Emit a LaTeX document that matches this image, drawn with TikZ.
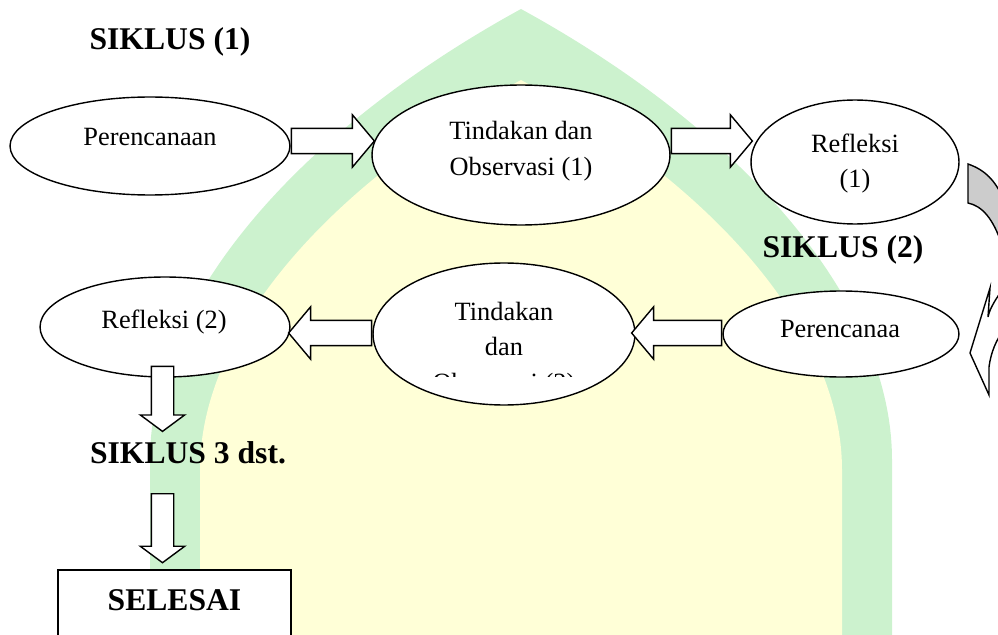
\documentclass[tikz,border=0pt]{standalone}
\usepackage{fontspec}
\setmainfont{Liberation Serif}
\usetikzlibrary{shapes.geometric,shapes.arrows,positioning}

\definecolor{wmgreen}{RGB}{204,242,206}
\definecolor{wmyellow}{RGB}{255,255,215}

\tikzset{
  phase/.style={draw, ellipse, fill=white, line width=0.8pt, inner sep=0pt},
  txt/.style={font=\fontsize{15}{20}\selectfont, align=center, anchor=base, inner sep=0pt},
  title/.style={font=\fontsize{18}{21}\selectfont\bfseries, anchor=base, inner sep=0pt},
  endbox/.style={draw, fill=white, line width=0.8pt, font=\fontsize{18}{21}\selectfont\bfseries,
    anchor=base, inner sep=0pt, minimum width=4.66cm, text height=0.8cm, text depth=2cm},
  harrow/.style={single arrow, draw, fill=white, line width=0.8pt, inner sep=0.24cm,
    text height=0pt, text depth=0pt, single arrow head extend=0.27cm,
    single arrow tip angle=100, anchor=tail},
  varrow/.style={single arrow, draw, fill=white, line width=0.8pt, inner sep=0.21cm,
    text height=0pt, text depth=0pt, single arrow head extend=0.22cm,
    single arrow tip angle=107, shape border rotate=270, anchor=tail}
}

\begin{document}
\begin{tikzpicture}[x=0.02cm, y=-0.02cm]
  \useasboundingbox (0,0) rectangle (998,635);
  \clip (0,0) rectangle (998,635);

  % watermark in the back
  \fill[wmgreen] (150,660) -- (150,460) .. controls (150,300) and (300,130) .. (521,9)
    .. controls (742,130) and (892,300) .. (892,460) -- (892,660) -- cycle;
  \fill[wmyellow] (200,660) -- (200,470) .. controls (200,330) and (330,185) .. (521,80)
    .. controls (712,185) and (842,330) .. (842,470) -- (842,660) -- cycle;

  % siklus 1
  \node[title] (siklus1) at (170,50) {SIKLUS (1)};
  \node[phase, minimum width=5.6cm, minimum height=1.96cm] (perenc1) at (150,146) {};
  \node[phase, minimum width=5.96cm, minimum height=2.8cm] (tind1) at (521,155) {};
  \node[phase, minimum width=4.16cm, minimum height=2.48cm] (refl1) at (855,162) {};
  \node[txt] (perenc1-txt) at (150,146) {Perencanaan};
  \node[txt] (tind1-txt) at (521,175) {Tindakan dan\\Observasi (1)};
  \node[txt] (refl1-txt) at (855,188) {Refleksi\\(1)};

  \node[harrow, minimum height=1.66cm] (arr1) at (perenc1.east |- 0,141) {};
  \node[harrow, minimum height=1.62cm] (arr2) at (tind1.east |- 0,141) {};

  % turn to siklus 2
  \fill[gray!40, draw=black, line width=0.8pt] (968,164) .. controls (985,170) and (995,180) .. (1004,200)
    -- (1010,200) -- (1010,250) -- (1002,245) .. controls (993,218) and (982,206) .. (968,203) -- cycle;
  \filldraw[fill=white, line width=0.8pt] (1005,286) .. controls (995,300) and (990,308) .. (988,317)
    -- (990,288) -- (970,353) -- (989,395) -- (989,367) .. controls (991,352) and (996,340) .. (1005,328)
    -- (1010,328) -- (1010,286) -- cycle;

  % siklus 2
  \node[title] (siklus2) at (843,257) {SIKLUS (2)};
  \node[phase, minimum width=4.72cm, minimum height=1.72cm] (perenc2) at (841,334) {};
  \node[phase, minimum width=5.24cm, minimum height=2.84cm] (tind2) at (504,334) {};
  \node[phase, minimum width=5.0cm, minimum height=2.0cm] (refl2) at (165,327) {};
  \node[txt] (perenc2-txt) at (840,337) {Perencanaa};
  \begin{scope}
    \clip (373,250) rectangle (635,376);
    \node[txt] (tind2-txt) at (504,391) {Tindakan\\dan\\Observasi (2)};
  \end{scope}
  \node[txt] (refl2-txt) at (164,328) {Refleksi (2)};

  \node[harrow, minimum height=1.8cm, shape border rotate=180] (arr3) at (perenc2.west |- 0,333) {};
  \node[harrow, minimum height=1.66cm, shape border rotate=180] (arr4) at (tind2.west |- 0,333) {};

  % siklus 3 dst
  \node[varrow, minimum height=1.3cm] (arr5) at ([xshift=-0.05cm, yshift=0.24cm]refl2.south) {};
  \node[title] (siklus3) at (188,463) {SIKLUS 3 dst.};
  \node[varrow, minimum height=1.38cm] (arr6) at (arr5.tail |- 0,493) {};
  \node[endbox] (selesai) at (174.5,610) {SELESAI};
\end{tikzpicture}
\end{document}
